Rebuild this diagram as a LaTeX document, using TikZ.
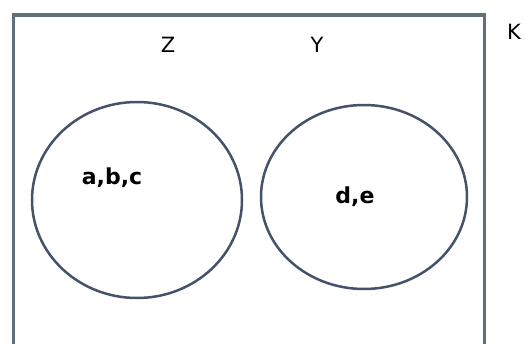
\documentclass[tikz,border=0pt]{standalone}
\usepackage{fontspec}
\setmainfont{DejaVu Sans}
\usetikzlibrary{shapes.geometric}
\definecolor{framecol}{HTML}{5E707C}
\definecolor{circcol}{HTML}{44526A}
\tikzset{
  setlabel/.style={font=\fontsize{21}{23}\selectfont, inner sep=0pt},
  elemlabel/.style={font=\fontsize{22}{24}\selectfont\bfseries, inner sep=0pt},
  setcircle/.style={draw=circcol, line width=2.5pt},
}
\begin{document}
\begin{tikzpicture}[x=1pt,y=-1pt]
\useasboundingbox (0,0) rectangle (525,343);
\clip (0,0) rectangle (525,343);
\draw[draw=framecol, line width=3.5pt] (13.5,360) -- (13.5,15) -- (484.5,15) -- (484.5,360);
\node[setcircle, ellipse, minimum width=210pt, minimum height=196pt, inner sep=0pt] (zc) at (137,200) {};
\node[setcircle, ellipse, minimum width=206pt, minimum height=184pt, inner sep=0pt] (yc) at (364,197) {};
\node[setlabel] (z) at (168,44.5) {Z};
\node[setlabel] (y) at (317,44.5) {Y};
\node[setlabel] (k) at (514,32) {K};
\node[elemlabel] (abc) at (112,178) {a,b,c};
\node[elemlabel] (de) at (355,197) {d,e};
\end{tikzpicture}
\end{document}
